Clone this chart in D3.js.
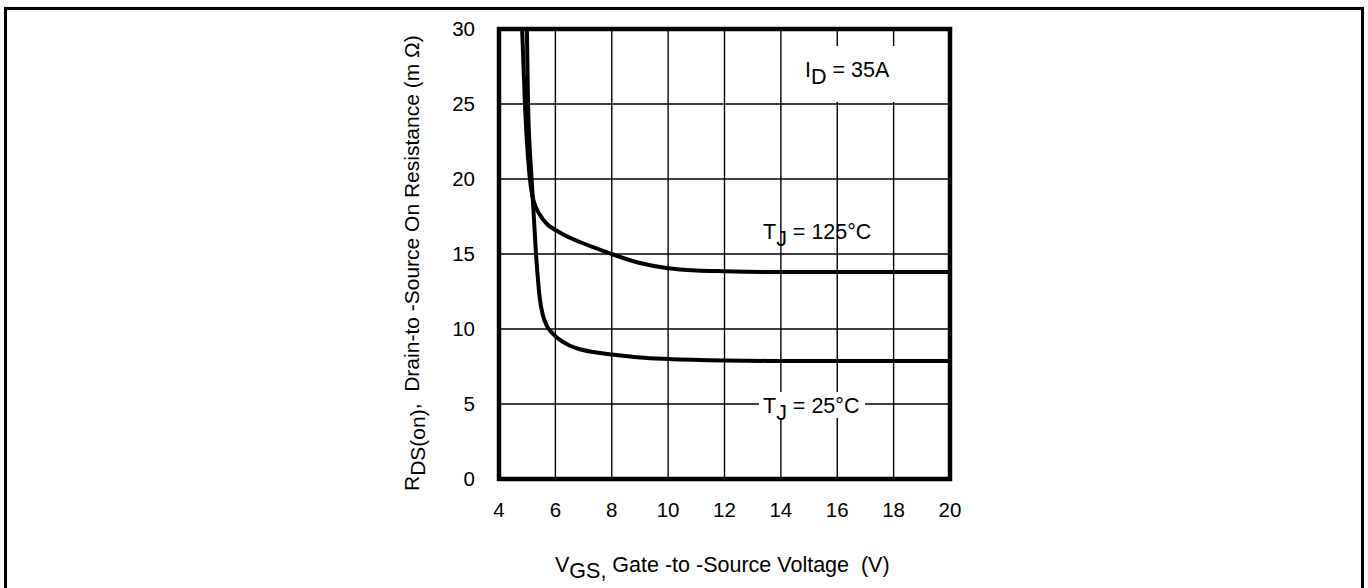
<!DOCTYPE html>
<html>
<head>
<meta charset="utf-8">
<script src="https://cdn.jsdelivr.net/npm/d3@7"></script>
<style>
  body { margin: 0; background: #fff; }
  svg { display: block; font-family: "Liberation Sans", Arial, sans-serif; }
</style>
</head>
<body>
<svg width="1368" height="588"></svg>
<script>
// values
var xTicks = [4, 6, 8, 10, 12, 14, 16, 18, 20];
var yTicks = [0, 5, 10, 15, 20, 25, 30];

var vgs125 = [4.82, 4.92, 5.08, 5.17, 5.27, 5.42, 5.7, 6, 6.5, 7, 7.5, 8, 9, 10, 11, 12, 14, 16, 18, 20];
var rds125 = [30, 25, 20.3, 19.0, 18.3, 17.7, 17.0, 16.6, 16.1, 15.7, 15.35, 15.0, 14.4, 14.05, 13.9, 13.85, 13.8, 13.8, 13.8, 13.8];

var vgs25 = [4.99, 5.03, 5.16, 5.31, 5.45, 5.56, 5.7, 5.9, 6.16, 6.5, 6.87, 7.58, 8, 9, 10, 12, 14, 16, 18, 20];
var rds25 = [30, 25, 19.9, 15.1, 12.0, 10.9, 10.2, 9.7, 9.27, 8.9, 8.65, 8.4, 8.3, 8.1, 8.0, 7.9, 7.87, 7.87, 7.87, 7.87];

var plotLeft = 499, plotRight = 950, plotTop = 29, plotBottom = 479;

var svg = d3.select('svg');

// outer frame (bottom edge falls outside the picture)
svg.append('rect')
  .attr('x', 5.5).attr('y', 8.5)
  .attr('width', 1357).attr('height', 600)
  .attr('fill', 'none').attr('stroke', '#000').attr('stroke-width', 3);

var xScale = d3.scaleLinear().domain([4, 20]).range([plotLeft, plotRight]);
var yScale = d3.scaleLinear().domain([0, 30]).range([plotBottom, plotTop]);

// grid
svg.append('g')
  .selectAll('line')
  .data(xTicks)
  .enter().append('line')
  .attr('x1', d => xScale(d)).attr('x2', d => xScale(d))
  .attr('y1', plotTop).attr('y2', plotBottom)
  .attr('stroke', '#000').attr('stroke-width', 1.4);

svg.append('g')
  .selectAll('line')
  .data(yTicks)
  .enter().append('line')
  .attr('x1', plotLeft).attr('x2', plotRight)
  .attr('y1', d => yScale(d)).attr('y2', d => yScale(d))
  .attr('stroke', '#000').attr('stroke-width', 1.4);

// white patch behind I_D label
svg.append('rect')
  .attr('x', 794).attr('y', 46).attr('width', 116).attr('height', 56)
  .attr('fill', '#fff');

svg.append('defs').append('clipPath').attr('id', 'plot')
  .append('rect').attr('x', plotLeft).attr('y', plotTop)
  .attr('width', plotRight - plotLeft).attr('height', plotBottom - plotTop);

var line = d3.line()
  .x(d => xScale(d[0]))
  .y(d => yScale(d[1]))
  .curve(d3.curveMonotoneX);

var curves = [d3.zip(vgs125, rds125), d3.zip(vgs25, rds25)];

svg.append('g')
  .attr('clip-path', 'url(#plot)')
  .selectAll('path')
  .data(curves)
  .enter().append('path')
  .attr('d', line)
  .attr('fill', 'none')
  .attr('stroke', '#000')
  .attr('stroke-width', 4)
  .attr('stroke-linejoin', 'round');

// plot frame
svg.append('rect')
  .attr('x', plotLeft).attr('y', plotTop)
  .attr('width', plotRight - plotLeft).attr('height', plotBottom - plotTop)
  .attr('fill', 'none').attr('stroke', '#000').attr('stroke-width', 4.5);

// tick labels
svg.append('g')
  .selectAll('text')
  .data(xTicks)
  .enter().append('text')
  .attr('x', d => xScale(d))
  .attr('y', plotBottom + 38)
  .attr('text-anchor', 'middle')
  .attr('font-size', 20.5)
  .text(d => d);

svg.append('g')
  .selectAll('text')
  .data(yTicks)
  .enter().append('text')
  .attr('x', plotLeft - 24)
  .attr('y', d => yScale(d) + 7)
  .attr('text-anchor', 'end')
  .attr('font-size', 20.5)
  .text(d => d);

// annotations
function sub(x, y, main, s, rest) {
  var t = svg.append('text').attr('x', x).attr('y', y).attr('font-size', 21.5)
    .attr('xml:space', 'preserve');
  t.append('tspan').text(main);
  t.append('tspan').attr('dy', 7).text(s);
  t.append('tspan').attr('dy', -7).text(rest);
  return t;
}

sub(805, 77, 'I', 'D', ' = 35A');
sub(763, 239, 'T', 'J', ' = 125°C');

svg.append('rect')
  .attr('x', 759).attr('y', 392).attr('width', 106).attr('height', 26)
  .attr('fill', '#fff');
sub(763, 413, 'T', 'J', ' = 25°C');

// axis titles
var xt = svg.append('text').attr('x', 555).attr('y', 572).attr('font-size', 21.5)
  .attr('xml:space', 'preserve');
xt.append('tspan').text('V');
xt.append('tspan').attr('dy', 6).text('GS,');
xt.append('tspan').attr('dy', -6).text(' Gate -to -Source Voltage  (V)');

var yt = svg.append('text')
  .attr('transform', 'translate(419,491) rotate(-90)')
  .attr('font-size', 21)
  .attr('xml:space', 'preserve');
yt.append('tspan').text('R');
yt.append('tspan').attr('dy', 6).text('DS(on)');
yt.append('tspan').attr('dy', -6).text(',  Drain-to -Source On Resistance (m Ω)');
</script>
</body>
</html>
